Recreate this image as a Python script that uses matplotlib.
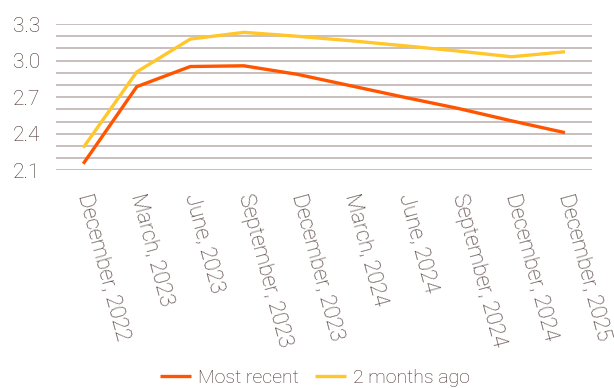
import matplotlib
matplotlib.use("Agg")
import matplotlib.pyplot as plt
from matplotlib.ticker import MultipleLocator

categories = ["December, 2022", "March, 2023", "June, 2023", "September, 2023",
              "December, 2023", "March, 2024", "June, 2024", "September, 2024",
              "December, 2024", "December, 2025"]
most_recent = [2.155, 2.787, 2.952, 2.958, 2.888, 2.794, 2.700, 2.609, 2.507, 2.410]
two_months_ago = [2.287, 2.908, 3.177, 3.232, 3.200, 3.163, 3.122, 3.079, 3.032, 3.073]
y_ticks = [2.1, 2.4, 2.7, 3.0, 3.3]

TEXT = "#432f2d"
GRID = "#bcaeae"
ORANGE = "#ff5500"
YELLOW = "#ffc72c"

plt.rcParams['font.family'] = ['Roboto', 'DejaVu Sans']

fig = plt.figure(figsize=(6.14, 3.88), dpi=100)
ax = fig.add_axes([0.092, 0.5606, 0.8718, 0.3774])

x = list(range(len(categories)))
l1, = ax.plot(x, most_recent, color=ORANGE, lw=2.4, solid_capstyle='butt', solid_joinstyle='miter', zorder=3)
l2, = ax.plot(x, two_months_ago, color=YELLOW, lw=2.4, solid_capstyle='butt', solid_joinstyle='miter', zorder=3)

ax.set_xlim(-0.5, len(categories) - 0.5)
ax.set_ylim(2.1, 3.3)
ax.set_yticks(y_ticks)
ax.set_yticklabels([f"{v:.1f}" for v in y_ticks])
ax.yaxis.set_minor_locator(MultipleLocator(0.1))
ax.grid(axis='y', which='both', color=GRID, lw=1.1, zorder=1)
ax.set_axisbelow(True)
for s in ax.spines.values():
    s.set_visible(False)
ax.tick_params(axis='both', which='both', length=0)
ax.tick_params(axis='y', labelsize=15, labelcolor=TEXT, pad=12)

ax.set_xticks(x)
ax.set_xticklabels(categories, rotation=-75, rotation_mode='anchor', ha='left', va='center',
                   fontsize=15.5, color=TEXT, fontweight='light')
ax.tick_params(axis='x', pad=17)
for t in ax.get_yticklabels():
    t.set_fontweight('light')

fig.legend([l1, l2], ["Most recent", "2 months ago"], loc='center', bbox_to_anchor=(0.5125, 0.025),
           ncol=2, frameon=False, handlelength=1.6, handletextpad=0.35, columnspacing=0.86,
           prop={'family': ['Roboto', 'DejaVu Sans'], 'size': 14, 'weight': 'light'},
           labelcolor=TEXT, borderaxespad=0, borderpad=0)

fig.savefig("out.png", dpi=100)
